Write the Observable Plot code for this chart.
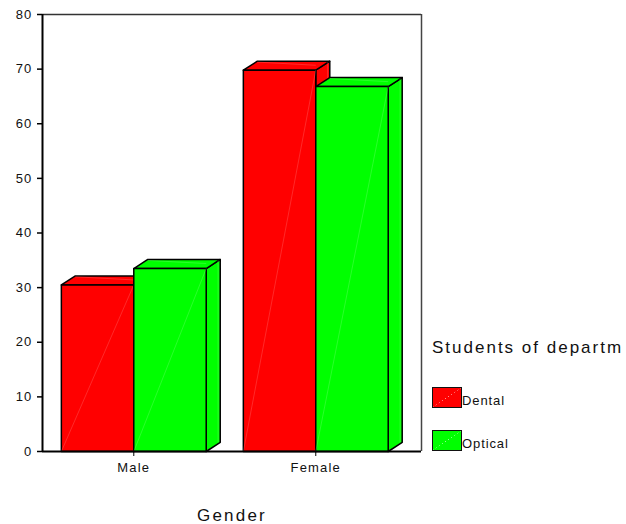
<!DOCTYPE html>
<html>
<head>
<meta charset="utf-8">
<script src="https://cdn.jsdelivr.net/npm/d3@7"></script>
<script src="https://cdn.jsdelivr.net/npm/@observablehq/plot@0.6"></script>
<style>
html,body{margin:0;padding:0;background:#fff;overflow:hidden}
#wrap{position:relative;width:626px;height:524px;font-family:"Liberation Sans",Arial,sans-serif;color:#111}
#wrap svg{display:block}
.lt{position:absolute;white-space:nowrap}
#ttl{left:432px;top:338px;font-size:17px;letter-spacing:2px;line-height:20px;width:194px;overflow:hidden}
.sw{position:absolute;left:432px;width:28px;height:19px;border:1px solid #111;box-sizing:content-box}
.lab{left:462px;font-size:13px;letter-spacing:.9px;line-height:16px}
</style>
</head>
<body>
<div id="wrap"></div>
<script>
const genders = ["Male", "Female"];
const departments = ["Dental", "Optical"];
const dentalValues = [30.5, 69.8];
const opticalValues = [33.5, 66.8];
const colors = {Dental: "#ff0000", Optical: "#00ff00"};
const highlights = {Dental: "#ff9a9a", Optical: "#9aff9a"};

const barWidth = 0.398, depthX = 0.077, depthY = 1.65;
const bars = [];
genders.forEach((g, i) => {
  bars.push({g, dept: "Dental", x1: i - barWidth, x2: i, v: dentalValues[i]});
  bars.push({g, dept: "Optical", x1: i, x2: i + barWidth, v: opticalValues[i]});
});
const barMarks = bars.flatMap((b, n) => {
  const {x1, x2, v, dept} = b;
  const faces = [];
  const poly = (k, pts) => pts.forEach(([x, y]) => faces.push({id: n + k, x, y}));
  poly("s", [[x2, 0], [x2 + depthX, depthY], [x2 + depthX, v + depthY], [x2, v], [x2, 0]]);
  poly("t", [[x1, v], [x1 + depthX, v + depthY], [x2 + depthX, v + depthY], [x2, v], [x1, v]]);
  poly("u", [[x1, 0], [x1, v], [x2, v], [x2, 0], [x1, 0]]);
  const shine = [
    {x1, y1: 0, x2, y2: v},
    {x1: x1 + depthX, y1: v + depthY * 0.9, x2, y2: v + depthY * 0.55},
    {x1: x2 + depthX * 0.85, y1: depthY, x2: x2 + depthX * 0.85, y2: v + depthY * 0.9}
  ];
  return [
    Plot.line(faces, {x: "x", y: "y", z: "id", fill: colors[dept], stroke: "#000", strokeWidth: 1.5}),
    Plot.link(shine, {x1: "x1", y1: "y1", x2: "x2", y2: "y2", stroke: highlights[dept], strokeWidth: 0.6, strokeOpacity: 0.45})
  ];
});

const plot = Plot.plot({
  width: 626, height: 524,
  marginLeft: 42, marginRight: 205, marginTop: 14, marginBottom: 73,
  style: {background: "#fff", fontFamily: "'Liberation Sans',Arial,sans-serif", color: "#111", letterSpacing: "1.2px"},
  x: {domain: [-0.5016, 1.581]},
  y: {domain: [0, 80]},
  marks: [
    Plot.ruleY([80], {stroke: "#333", strokeWidth: 1.5}),
    Plot.ruleX([1.581], {stroke: "#444", strokeWidth: 1.5}),
    ...barMarks,
    Plot.ruleX([-0.5016], {stroke: "#000", strokeWidth: 2}),
    Plot.ruleY([0], {stroke: "#000", strokeWidth: 2}),
    Plot.axisY({ticks: d3.range(0, 81, 10), tickSize: 5, tickPadding: 5, fontSize: 13, label: null, tickFormat: d => d, strokeWidth: 1.5, stroke: "#000"}),
    Plot.axisX({ticks: [0, 1], tickFormat: i => genders[i], tickSize: 5, tickPadding: 6, fontSize: 13, label: null, stroke: "#000"}),
    Plot.text(["Gender"], {
      frameAnchor: "bottom", dy: 69, fontSize: 17, fill: "#111",
      render: (index, scales, values, dimensions, context, next) => {
        const g = next(index, scales, values, dimensions, context);
        g.style.letterSpacing = "2.2px";
        return g;
      }
    })
  ]
});
const wrap = document.getElementById("wrap");
wrap.appendChild(plot);

const addDiv = (cls, id, css, text) => {
  const d = document.createElement("div");
  d.className = cls; if (id) d.id = id;
  Object.assign(d.style, css);
  if (text) d.textContent = text;
  wrap.appendChild(d);
};
addDiv("lt", "ttl", {}, "Students of departm");
const legendTops = [387, 430];
departments.forEach((dept, i) => {
  addDiv("sw", null, {
    top: legendTops[i] + "px",
    background: `linear-gradient(to top left, ${colors[dept]} 49.3%, ${highlights[dept]} 50%, ${colors[dept]} 50.7%)`
  });
  addDiv("lt lab", null, {top: legendTops[i] + 6 + "px"}, dept);
});
</script>
</body>
</html>
